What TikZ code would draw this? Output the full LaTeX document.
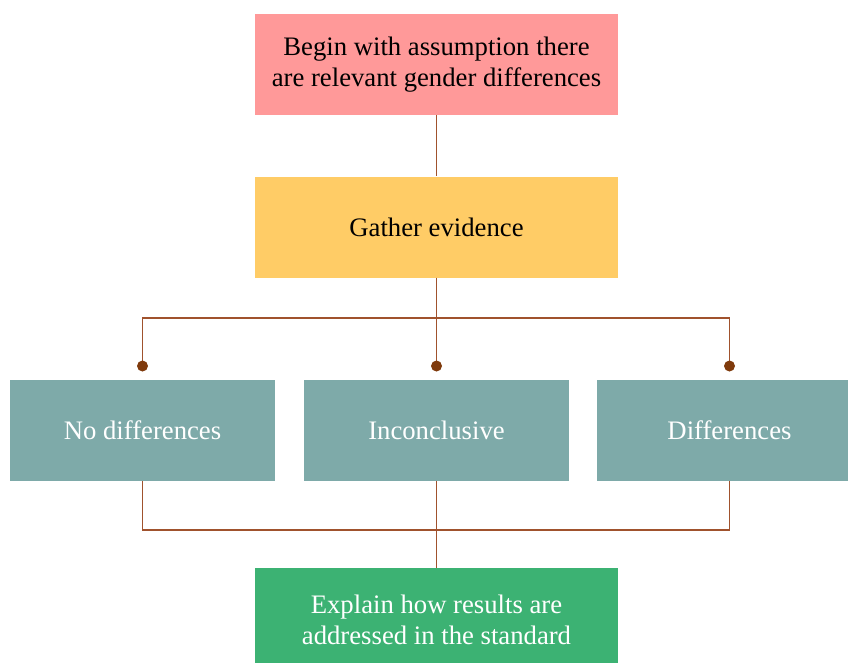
\documentclass[tikz,border=0pt]{standalone}
\usepackage{fontspec}
\setmainfont{Liberation Serif}
\definecolor{cpink}{HTML}{FF9999}
\definecolor{cyel}{HTML}{FFCC66}
\definecolor{cteal}{HTML}{7EAAA9}
\definecolor{cgreen}{HTML}{3CB273}
\definecolor{cline}{HTML}{A0522D}
\definecolor{cdot}{HTML}{7F3A0C}
\begin{document}
\begin{tikzpicture}[x=1pt,y=-1pt,
  box/.style={minimum width=363pt,minimum height=101pt,inner sep=0pt,align=center,
    font=\fontsize{26.7}{31}\selectfont},
  midbox/.style={box,minimum width=265pt,fill=cteal,text=white},
  conn/.style={draw=cline,line width=1.4pt},
  dotend/.style={fill=cdot}]
\useasboundingbox (0,0) rectangle (848,662);
\node[box,fill=cpink] (top) at (436.5,64.5) {Begin with assumption there\\are relevant gender differences};
\node[box,fill=cyel] (gather) at (436.5,227) {Gather evidence};
\node[midbox] (nod) at (142.5,430.5) {No differences};
\node[midbox] (inc) at (436.5,430.5) {Inconclusive};
\node[midbox] (dif) at (729.5,430.5) {Differences};
\node[box,fill=cgreen,text=white,minimum height=100pt,text depth=0pt] (expl) at (436.5,618) {};
\node[font=\fontsize{26.7}{31}\selectfont,text=white,align=center,inner sep=0pt] (expltxt) at (436.5,620) {Explain how results are\\addressed in the standard};
\coordinate (jt) at (436.5,318);
\coordinate (jl) at (142.5,318);
\coordinate (jr) at (729.5,318);
\coordinate (dl) at (142.5,366);
\coordinate (dm) at (436.5,366);
\coordinate (dr) at (729.5,366);
\coordinate (bl) at (142.5,530);
\coordinate (bm) at (436.5,530);
\coordinate (br) at (729.5,530);
\draw[conn] (top.south) -- (gather.north);
\draw[conn] (gather.south) -- (jt);
\draw[conn] (dl) -- (jl) -- (jr) -- (dr);
\draw[conn] (jt) -- (dm);
\fill[dotend] (dl) circle (5.5pt);
\fill[dotend] (dm) circle (5.5pt);
\fill[dotend] (dr) circle (5.5pt);
\draw[conn] (nod.south) -- (bl) -- (br) -- (dif.south);
\draw[conn] (inc.south) -- (expl.north);
\end{tikzpicture}
\end{document}
